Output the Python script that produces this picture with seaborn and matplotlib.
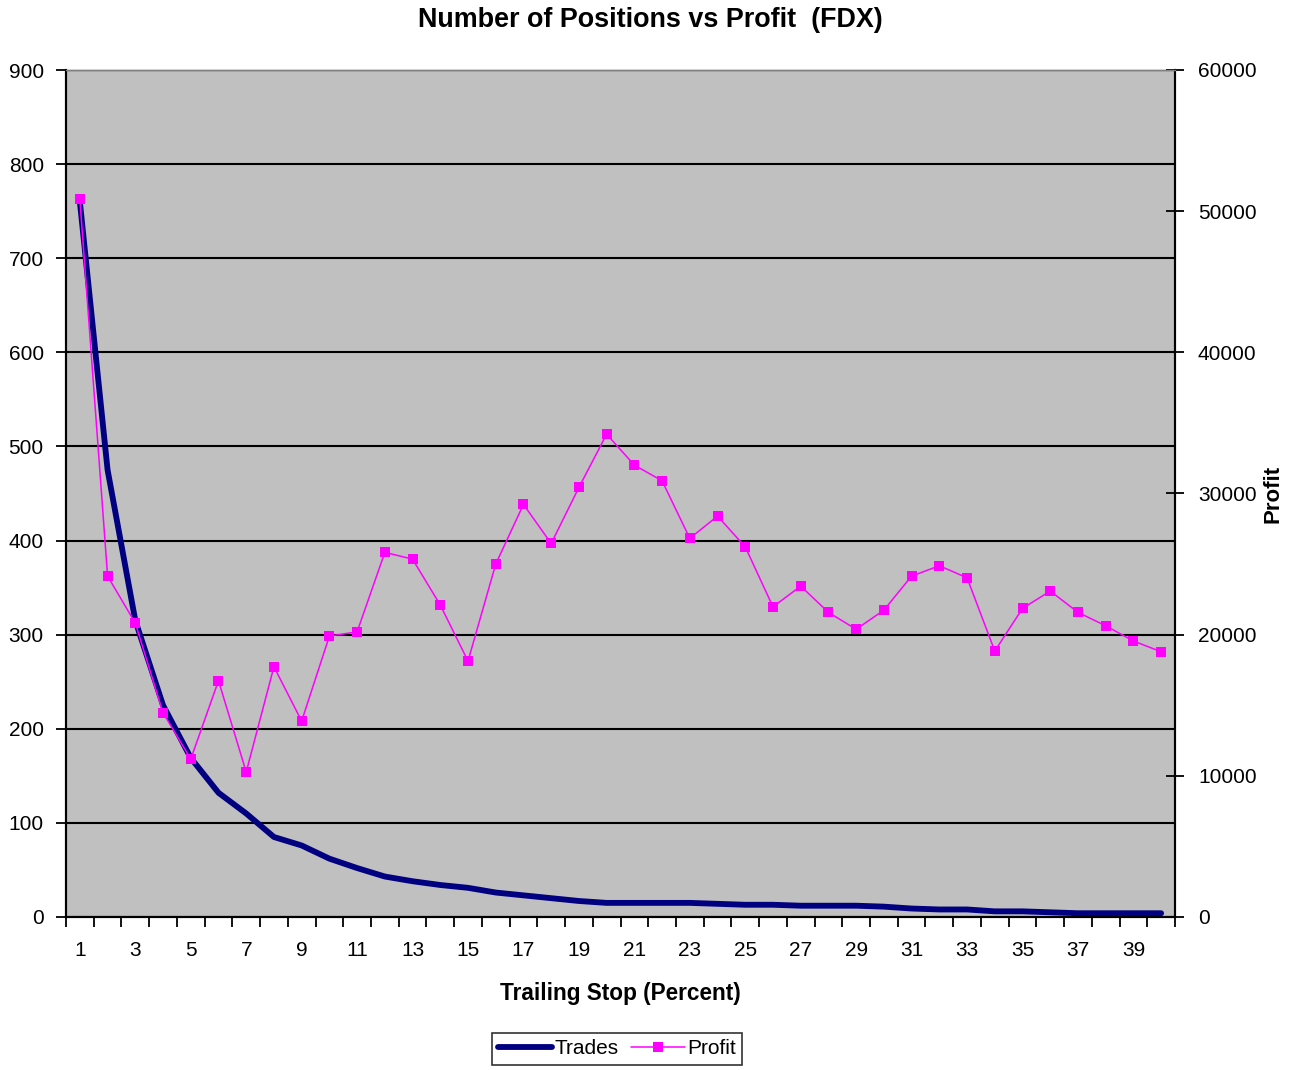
import numpy as np
import pandas as pd
import matplotlib
matplotlib.use("Agg")
import matplotlib.pyplot as plt
import seaborn as sns
from matplotlib.ticker import FixedLocator, NullFormatter

# Trailing stop percentages (categories)
stops = list(range(1, 41))

# Number of trades per trailing stop
trades = [760, 475, 315, 225, 169, 132, 110, 85, 76, 62,
          52, 43, 38, 34, 31, 26, 23, 20, 17, 15,
          15, 15, 15, 14, 13, 13, 12, 12, 12, 11,
          9, 8, 8, 6, 6, 5, 4, 4, 4, 4]

# Total profit per trailing stop
profit = [50850, 24150, 20820, 14470, 11190, 16740, 10270, 17730, 13880, 19900,
          20200, 25830, 25350, 22100, 18130, 25000, 29230, 26460, 30430, 34200,
          32010, 30900, 26820, 28400, 26220, 21970, 23440, 21580, 20380, 21740,
          24150, 24880, 24030, 18840, 21860, 23090, 21580, 20630, 19550, 18790]

left_ticks = list(range(0, 901, 100))
right_ticks = list(range(0, 60001, 10000))
x_labels = [str(s) for s in stops if s % 2 == 1]

df = pd.DataFrame({"stop": stops, "Trades": trades, "Profit": profit})

sns.set_style("ticks")
plt.rcParams["font.family"] = ["Liberation Sans", "DejaVu Sans"]
plt.rcParams["text.color"] = "black"
plt.rcParams["axes.labelcolor"] = "black"

NAVY = "#000080"
MAGENTA = "#FF00FF"

fig = plt.figure(figsize=(12.93, 10.70), dpi=100)
fig.patch.set_facecolor("white")
ax = fig.add_axes([66 / 1293, 1 - 917 / 1070, (1175 - 66) / 1293, (917 - 70) / 1070])
ax.set_facecolor("#C0C0C0")

sns.lineplot(data=df, x="stop", y="Trades", ax=ax, color=NAVY, linewidth=4.2,
             legend=False, zorder=3)

ax2 = ax.twinx()
sns.lineplot(data=df, x="stop", y="Profit", ax=ax2, color=MAGENTA, linewidth=1.1,
             marker="s", markersize=7.5, markeredgewidth=0, legend=False, zorder=4)

# Left axis
ax.set_xlim(0.5, 40.5)
ax.set_ylim(0, 900)
ax.set_yticks(left_ticks)
ax.yaxis.grid(True, color="black", linewidth=1.5)
ax.xaxis.grid(False)
ax.set_axisbelow(True)
ax.tick_params(axis="y", direction="out", length=7, width=1.3, pad=9,
               labelsize=15, colors="black")

# Category axis: labels at odd centers, tick marks at category boundaries
ax.xaxis.set_major_locator(FixedLocator([s for s in stops if s % 2 == 1]))
ax.set_xticklabels(x_labels)
ax.xaxis.set_minor_locator(FixedLocator(np.arange(0.5, 41, 1.0)))
ax.xaxis.set_minor_formatter(NullFormatter())
ax.tick_params(axis="x", which="major", length=0, pad=17, labelsize=15, colors="black")
ax.tick_params(axis="x", which="minor", direction="out", length=7, width=1.3, colors="black")

ax.set_xlabel("Trailing Stop (Percent)", fontsize=16.3, fontweight="bold",
              labelpad=16, color="black")
ax.set_ylabel("")

# Right axis
ax2.set_ylim(0, 60000)
ax2.set_yticks(right_ticks)
ax2.tick_params(axis="y", direction="inout", length=13, width=1.3, pad=10,
                labelsize=15, colors="black")
ax2.set_ylabel("Profit", fontsize=16, fontweight="bold", labelpad=4, color="black")

for a in (ax, ax2):
    a.spines["top"].set_color("#808080")
    a.spines["top"].set_linewidth(1.0)
    for side in ("left", "right", "bottom"):
        a.spines[side].set_color("black")
        a.spines[side].set_linewidth(1.5)

fig.suptitle("Number of Positions vs Profit  (FDX)", x=0.503, y=1 - 20 / 1070,
             va="center", fontsize=19.4, fontweight="bold", color="black")

handles = [ax.get_lines()[0], ax2.get_lines()[0]]
leg = fig.legend(handles, ["Trades", "Profit"], loc="center",
                 bbox_to_anchor=(617 / 1293, 1 - 1049 / 1070), ncol=2,
                 fontsize=15, frameon=True, fancybox=False, edgecolor="black",
                 handlelength=2.6, handletextpad=0.1, columnspacing=0.6,
                 borderpad=0.3, borderaxespad=0)
leg.get_frame().set_linewidth(1.2)
for t in leg.get_texts():
    t.set_color("black")

fig.savefig("out.png", dpi=100, facecolor="white")
